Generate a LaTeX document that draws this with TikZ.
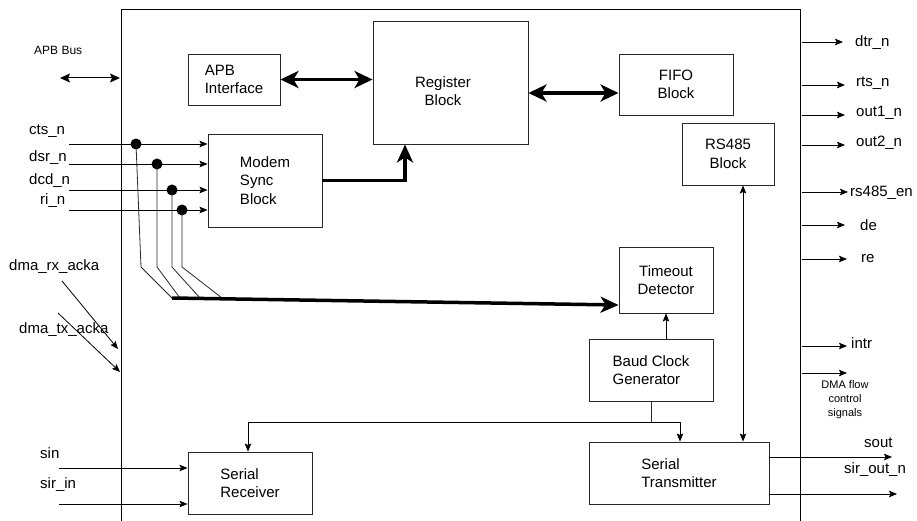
\documentclass[tikz,border=0pt]{standalone}
\usepackage{fontspec}
\setmainfont{Liberation Sans}
\usepackage{tikz}
\usetikzlibrary{arrows.meta,positioning}
\definecolor{ualine}{RGB}{40,40,40}
\tikzstyle{frame} = [line width=1pt, color=black]
\tikzstyle{block} = [rectangle, draw=ualine, line width=0.9pt, inner sep=0pt, align=left, font=\fontsize{15}{18.5}\selectfont]
\tikzstyle{pin} = [inner sep=0pt, font=\fontsize{15}{18}\selectfont]
\tikzstyle{wire} = [line width=0.8pt, color=ualine]
\tikzstyle{arrow} = [line width=0.8pt, -{Stealth[length=8pt,width=6.5pt,inset=1.5pt]}]
\tikzstyle{dblarrow} = [line width=0.8pt, {Stealth[length=8pt,width=6.5pt,inset=1.5pt]}-{Stealth[length=8pt,width=6.5pt,inset=1.5pt]}]
\tikzstyle{bus} = [line width=3.5pt, -{Stealth[length=18pt,width=16pt,inset=5pt]}]
\tikzstyle{busboth} = [line width=3.5pt, {Stealth[length=18pt,width=17pt,inset=5pt]}-{Stealth[length=18pt,width=17pt,inset=5pt]}]
\tikzstyle{dot} = [circle, fill=black, inner sep=0pt, minimum size=11pt]

\begin{document}
\begin{tikzpicture}[x=1pt, y=-1pt]
\useasboundingbox (0,0) rectangle (917,521);

% UART outline
\draw[frame] (121,521) -- (121,10) -- (800,10) -- (800,521);

% Blocks
\node (apb) [block, minimum width=92, minimum height=51] at (234,79.5) {APB\\Interface};
\node (reg) [block, minimum width=155, minimum height=123] at (450.5,82.5) {};
\node (regtext) [pin, align=center] at (443,91) {Register\\Block};
\node (fifo) [block, align=center, minimum width=114, minimum height=61] at (676,84.5) {FIFO\\Block};
\node (rs485) [block, align=center, minimum width=92, minimum height=62] at (728,154) {RS485\\Block};
\node (modem) [block, minimum width=114, minimum height=93] at (265,180.5) {Modem\\Sync\\Block};
\node (timeout) [block, align=center, minimum width=94, minimum height=66] at (666,280) {Timeout\\Detector};
\node (baud) [block, minimum width=124, minimum height=62] at (651,370) {Baud Clock\\Generator};
\node (rx) [block, minimum width=124, minimum height=62] at (250,483) {Serial\\Receiver};
\node (tx) [block, minimum width=180, minimum height=62] at (679,473) {Serial\\Transmitter};

% APB side
\node (apblab) [pin, anchor=base west, font=\fontsize{12}{14}\selectfont] at (34,55) {APB Bus};
\coordinate (apbext) at (60,78);
\coordinate (apbedge) at (120,78);
\draw[line width=1pt, {Stealth[length=10pt,width=9pt,inset=2pt]}-{Stealth[length=10pt,width=9pt,inset=2pt]}] (apbext) -- (apbedge);

% Data paths
\draw[busboth] (apb.east) -- (apb.east -| reg.west);
\draw[busboth] ([yshift=-8.5pt]fifo.west) -- ([yshift=-8.5pt]fifo.west -| reg.east);
\draw[bus] (modem.east) -| ([xshift=-45.5pt]reg.south);

% Modem inputs, tapped off to the timeout bus
\coordinate (busL) at (172,298);
\foreach \y/\lab/\lx/\ly/\dx/\kx/\ex [count=\i] in {144/cts\_n/29/135/136/141/172, 164/dsr\_n/29/162/157/157/180, 190/dcd\_n/29/185/172/172/200, 210/ri\_n/40/205/182/182/222} {
  \coordinate (in\i) at (69,\y);
  \node (inlab\i) [pin, anchor=base west] at (\lx,\ly) {\lab};
  \draw[arrow] (in\i) -- (in\i -| modem.west);
  \node (dot\i) [dot] at (\dx,\y) {};
  \draw[wire] (dot\i.center) -- (\kx,267) -- (\ex,298);
}
\draw[bus] (busL) -- ([yshift=-25pt]timeout.west);

% DMA acknowledges
\node (rxacklab) [pin, anchor=base west] at (9,270) {dma\_rx\_acka};
\node (txacklab) [pin, anchor=base west] at (19,333) {dma\_tx\_acka};
\coordinate (rxack) at (62,281);
\coordinate (rxackend) at (118,349);
\coordinate (txack) at (58,313);
\coordinate (txackend) at (120,372);
\draw[arrow] (rxack) -- (rxackend);
\draw[arrow] (txack) -- (txackend);

% Clocking
\draw[arrow] (timeout.south |- baud.north) -- (timeout.south);
\coordinate (clk) at ([yshift=-21pt]baud.south);
\draw[wire] (baud.south) -- (clk);
\draw[arrow] (clk) -| ([xshift=1pt]tx.north);
\draw[arrow] (clk) -| ([xshift=-2pt]rx.north);
\draw[dblarrow] ([xshift=15pt]rs485.south) -- ([xshift=15pt]rs485.south |- tx.north);

% Serial in
\coordinate (sin) at (59,468);
\coordinate (sirin) at (59,504);
\node (sinlab) [pin, anchor=base west] at (40,458) {sin};
\node (sirinlab) [pin, anchor=base west] at (40,488) {sir\_in};
\draw[arrow] (sin) -- (sin -| rx.west);
\draw[arrow] (sirin) -- (sirin -| rx.west);

% Serial out
\coordinate (soutend) at (892,457);
\coordinate (siroutend) at (897,494);
\node (soutlab) [pin, anchor=base west] at (864,447) {sout};
\node (siroutlab) [pin, anchor=base west] at (844,473) {sir\_out\_n};
\draw[arrow] ([yshift=16pt]tx.east) -- (soutend);
\draw[arrow] ([yshift=-21pt]tx.east) -- (siroutend);

% Outputs
\foreach \y/\tip/\lab/\tx/\ty [count=\i] in {42/843/dtr\_n/855/47, 85/845/rts\_n/856/87, 115/845/out1\_n/856/117, 145/845/out2\_n/856/147, 192/848/rs485\_en/850/197, 225/845/de/860/230, 259/847/re/861/262, 346/847/intr/851/348} {
  \coordinate (out\i) at (802,\y);
  \coordinate (outend\i) at (\tip,\y);
  \draw[arrow] (out\i) -- (outend\i);
  \node (outlab\i) [pin, anchor=base west] at (\tx,\ty) {\lab};
}
\coordinate (dmaout) at (802,373);
\coordinate (dmaoutend) at (847,373);
\draw[arrow] (dmaout) -- (dmaoutend);
\node (dmalab) [align=center, inner sep=0pt, font=\fontsize{11}{14}\selectfont] at (845,400) {DMA flow\\control\\signals};
\end{tikzpicture}
\end{document}
